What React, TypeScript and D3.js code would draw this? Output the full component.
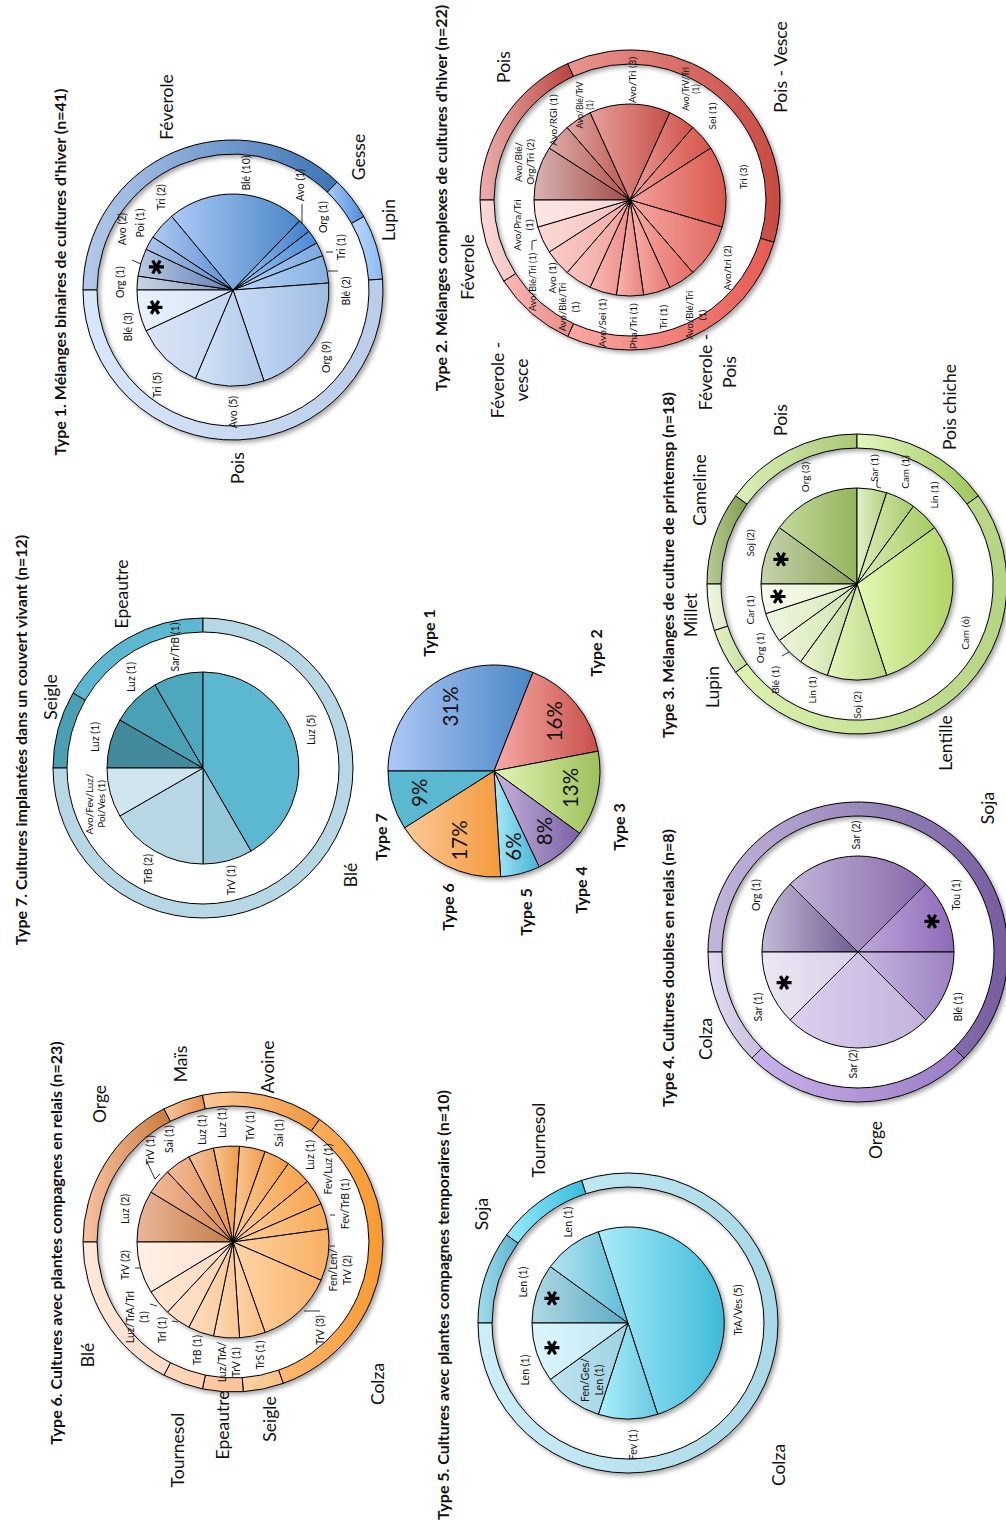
import React from 'react';
import * as d3 from 'd3';

const FONT = 'Lato, "Open Sans", "DejaVu Sans", sans-serif';
const W = 1006;
const H = 1530;
const R_IN = 96;
const R_RING0 = 136;
const R_RING1 = 150;

// ---------------- DATA ----------------
// Type 1
const t1Groups = ['Féverole', 'Gesse', 'Lupin', 'Pois'];
const t1Labels = ['Org (1)', 'Avo (2)', 'Poi (1)', 'Tri (2)', 'Blé (10)', 'Avo (1)', 'Org (1)', 'Tri (1)', 'Blé (2)', 'Org (9)', 'Avo (5)', 'Tri (5)', 'Blé (3)'];
const t1Values = [1, 2, 1, 2, 10, 1, 1, 1, 2, 9, 5, 5, 3];
const t1GroupOf = [0, 0, 0, 0, 0, 1, 1, 2, 2, 3, 3, 3, 3];
const t1Stars = [1, 12];

// Type 2
const t2Groups = ['Pois', 'Pois - Vesce', 'Féverole -\nPois', 'Féverole -\nvesce', 'Féverole'];
const t2Labels = ['Avo/Blé/\nOrg/Tri (2)', 'Avo/RGI (1)', 'Avo/Blé/TrV\n(1)', 'Avo/Tri (3)', 'Avo/TrV/Tri\n(1)', 'Sei (1)', 'Tri (3)', 'Avo/tri (2)', 'Avo/Blé/Tri\n(1)', 'Tri (1)', 'Pha/Tri (1)', 'Avo/Sei (1)', 'Avo/Blé/Tri\n(1)', 'Avo (1)', 'Avo/Blé/Tri (1)', 'Avo/Pra/Tri\n(1)'];
const t2Values = [2, 1, 1, 3, 1, 1, 3, 2, 1, 1, 1, 1, 1, 1, 1, 1];
const t2GroupOf = [0, 0, 0, 1, 1, 1, 1, 2, 2, 2, 2, 2, 3, 3, 4, 4];

// Type 3
const t3Groups = ['Cameline', 'Pois', 'Pois chiche', 'Lentille', 'Lupin', 'Millet'];
const t3Labels = ['Soj (2)', 'Org (3)', 'Sar (1)', 'Cam (1)', 'Lin (1)', 'Cam (6)', 'Soj (2)', 'Lin (1)', 'Blé (1)', 'Org (1)', 'Car (1)'];
const t3Values = [2, 3, 1, 1, 1, 6, 2, 1, 1, 1, 1];
const t3GroupOf = [0, 1, 2, 2, 2, 3, 3, 3, 3, 4, 5];
const t3Stars = [0, 10];

// Type 4
const t4Groups = ['Soja', 'Orge', 'Colza'];
const t4Labels = ['Org (1)', 'Sar (2)', 'Tou (1)', 'Blé (1)', 'Sar (2)', 'Sar (1)'];
const t4Values = [1, 2, 1, 1, 2, 1];
const t4GroupOf = [0, 0, 0, 0, 1, 2];
const t4Stars = [2, 5];

// Type 5
const t5Groups = ['Soja', 'Tournesol', 'Colza'];
const t5Labels = ['Len (1)', 'Len (1)', 'TrA/Ves (5)', 'Fev (1)', 'Fen/Ges/\nLen (1)', 'Len (1)'];
const t5Values = [1, 1, 5, 1, 1, 1];
const t5GroupOf = [0, 1, 2, 2, 2, 2];
const t5Stars = [0, 5];

// Type 6
const t6Groups = ['Orge', 'Maïs', 'Avoine', 'Colza', 'Seigle', 'Epeautre', 'Tournesol', 'Blé'];
const t6Labels = ['Luz (2)', 'TrV (1)', 'Sai (1)', 'Luz (1)', 'Luz (1)', 'TrV (1)', 'Sai (1)', 'Luz (1)', 'Fev/Luz (1)', 'Fev/TrB (1)', 'Fen/Len/\nTrV (2)', 'TrV (3)', 'TrS (1)', 'Luz/TrA/\nTrV (1)', 'TrB (1)', 'TrI (1)', 'Luz/TrA/TrI\n(1)', 'TrV (2)'];
const t6Values = [2, 1, 1, 1, 1, 1, 1, 1, 1, 1, 2, 3, 1, 1, 1, 1, 1, 2];
const t6GroupOf = [0, 0, 0, 1, 2, 2, 2, 3, 3, 3, 3, 3, 4, 5, 6, 7, 7, 7];

// Type 7
const t7Groups = ['Seigle', 'Epeautre', 'Blé'];
const t7Labels = ['Luz (1)', 'Luz (1)', 'Sar/TrB (1)', 'Luz (5)', 'TrV (1)', 'TrB (2)', 'Avo/Fev/Luz/\nPoi/Ves (1)'];
const t7Values = [1, 1, 1, 5, 1, 2, 1];
const t7GroupOf = [0, 1, 1, 2, 2, 2, 2];

// Summary
const sumTypes = ['Type 1', 'Type 2', 'Type 3', 'Type 4', 'Type 5', 'Type 6', 'Type 7'];
const sumValues = [31, 16, 13, 8, 6, 17, 9];

// ---------------- STYLE / LAYOUT ----------------
type C2 = [string, string];
type P = [number, number];
type Seg = [number, number, number, number];

type Spec = {
  id: string; cx: number; cy: number;
  groups: string[]; labels: string[]; values: number[]; groupOf: number[]; stars: number[];
  sliceColors: C2[]; ringColors: C2[];
  labelPos: P[]; groupPos: P[]; labelSize: number; small?: Record<number, number>;
  leaders?: Seg[];
  title: string; titlePos: P; flat?: boolean; shadow?: boolean;
};

const specs: Spec[] = [
  {
    id: 't1', cx: 1240, cy: 233,
    groups: t1Groups, labels: t1Labels, values: t1Values, groupOf: t1GroupOf, stars: t1Stars,
    sliceColors: [['#c9d3e3', '#8397b8'], ['#b8c8e2', '#5f7fb3'], ['#aec6ec', '#5a86c4'], ['#adc9f2', '#5b8fd0'], ['#abc9f5', '#4a87c7'],
      ['#9cc2f2', '#3f7fc8'], ['#9fc6f4', '#4a8ad6'], ['#b5d2f6', '#7ba9e0'], ['#bad5f7', '#87b1e3'],
      ['#c9dcf7', '#9fbce3'], ['#d3e2f6', '#b0c7e8'], ['#dbe6f6', '#c2d4ee'], ['#e9f1fc', '#d6e3f6']],
    ringColors: [['#b5c9ea', '#3e75b4'], ['#a8ccf8', '#4d8cd8'], ['#bcd9fc', '#8db9f0'], ['#d8e7fb', '#b9cde9']],
    labelPos: [[8, -113], [61, -111], [67, -93], [93, -72], [117, 13], [105, 67], [73, 90], [43, 108], [-1, 113], [-67, 93], [-122, 0], [-95, -76], [-37, -105]],
    groupPos: [[183, -67], [133, 125], [70, 155], [-178, 4]],
    leaders: [[86, 69], [66, 69], [30, -101], [26, -92], [38, 93], [38, 100], [19, 95], [19, 105]].reduce((acc: Seg[], p, i, arr) => (i % 2 ? acc : [...acc, [p[0], p[1], arr[i + 1][0], arr[i + 1][1]] as Seg]), []),
    labelSize: 10.5,
    title: "Type 1. Mélanges binaires de cultures d'hiver (n=41)", titlePos: [1258, 59], shadow: true,
  },
  {
    id: 't2', cx: 1330, cy: 630,
    groups: t2Groups, labels: t2Labels, values: t2Values, groupOf: t2GroupOf, stars: [],
    sliceColors: [['#d9b3b3', '#a04a46'], ['#dda9a8', '#b0524c'], ['#e2a8a6', '#b9554e'],
      ['#e8a09c', '#c45048'], ['#ec9d98', '#cc5248'], ['#ef9c96', '#d4554b'], ['#f4a29b', '#d9574c'],
      ['#f6a8a2', '#e06a60'], ['#f8aaa4', '#e47068'], ['#f9b0aa', '#e57a72'], ['#fab5b0', '#e88480'], ['#fbbab5', '#ea8c88'],
      ['#fac4c0', '#eda09c'], ['#fbcac6', '#efaaa6'], ['#fcd8d6', '#f3c0bd'], ['#fde6e5', '#f8d6d4']],
    ringColors: [['#ecb0ae', '#b8423c'], ['#e99490', '#c84b42'], ['#fca8a4', '#e65a50'], ['#f9b8b5', '#e88a86'], ['#fbd9d7', '#f3c6c3']],
    labelPos: [[38, -106], [80, -77], [95, -45], [120, 2], [111, 61], [84, 82], [23, 113], [-68, 97], [-115, 66], [-117, 33], [-126, 3], [-123, -28], [-107, -61], [-78, -78], [-82, -98], [-25, -107]],
    groupPos: [[133, -127], [133, 150], [-172, 87], [-180, -121], [-67, -163]],
    leaders: [[-50, -98, -41, -98], [-41, -98, -40, -93]],
    labelSize: 10, small: { 2: 8.5, 4: 8.5, 14: 9, 12: 9.5, 8: 9.5 },
    title: "Type 2. Mélanges complexes de cultures d'hiver  (n=22)", titlePos: [1332, 440], shadow: true,
  },
  {
    id: 't3', cx: 946, cy: 857,
    groups: t3Groups, labels: t3Labels, values: t3Values, groupOf: t3GroupOf, stars: t3Stars,
    sliceColors: [['#c6d4ab', '#8ba45a'], ['#c4d99f', '#93b55a'], ['#e2f0c8', '#b2cf7e'], ['#dcefbc', '#a9cb6c'], ['#d9eeb5', '#a5ca62'],
      ['#e3f9b4', '#b0d466'], ['#e4f5bd', '#bcd986'], ['#e9f5cf', '#c6dd9d'], ['#ecf6d8', '#cfe2ae'], ['#eef7df', '#d6e6ba'], ['#f6fbec', '#e4efcf']],
    ringColors: [['#b9cc97', '#7f9c4e'], ['#dcf0b8', '#a9c876'], ['#e4f7bf', '#9dc75a'], ['#dcf2ad', '#b4d483'], ['#e2f0c4', '#c8e0a0'], ['#eef6e0', '#dfeccb']],
    labelPos: [[41, -107], [107, -52], [116, 17], [112, 48], [89, 77], [-49, 108], [-121, 0], [-106, -45], [-96, -82], [-64, -97], [-26, -107]],
    groupPos: [[94, -158], [164, -77], [177, 92], [-159, 88], [-103, -145], [-31, -167]],
    leaders: [[104, 20, 97, 20], [97, 20, 96, 24], [-72, -75, -68, -68]],
    labelSize: 10,
    title: 'Type 3. Mélanges de culture de printemsp (n=18)', titlePos: [965, 667], shadow: true,
  },
  {
    id: 't4', cx: 578, cy: 858,
    groups: t4Groups, labels: t4Labels, values: t4Values, groupOf: t4GroupOf, stars: t4Stars,
    sliceColors: [['#c4bad6', '#6f5a93'], ['#c2b3da', '#8668a8'], ['#bea8dc', '#8e6ab8'], ['#c9b8e4', '#9c82c0'], ['#dccfee', '#c3b3dc'], ['#ece6f4', '#d8d0e6']],
    ringColors: [['#c3b5da', '#765c9e'], ['#c9b2ea', '#9a7cc4'], ['#e2dbf0', '#c9bedf']],
    labelPos: [[57, -102], [117, -2], [57, 98], [-55, 100], [-112, -5], [-55, -100]],
    groupPos: [[144, 129], [-188, 17], [-87, -153]],
    labelSize: 10.5,
    title: 'Type 4. Cultures doubles en relais (n=8)', titlePos: [562, 667],
  },
  {
    id: 't5', cx: 207, cy: 628,
    groups: t5Groups, labels: t5Labels, values: t5Values, groupOf: t5GroupOf, stars: t5Stars,
    sliceColors: [['#b0d8e4', '#5aaac2'], ['#b4e4f2', '#5cbdd6'], ['#a8ecfa', '#3fbad8'], ['#acf0fc', '#68c8e0'], ['#bfe4ef', '#9cd2e2'], ['#dcf5fc', '#c0e8f4']],
    ringColors: [['#a4dcec', '#58b2cc'], ['#96ecfc', '#38bcdc'], ['#cdeef8', '#a8d8e6']],
    labelPos: [[41, -105], [101, -60], [13, 110], [-122, 5], [-57, -36], [-47, -103]],
    groupPos: [[109, -147], [183, -90], [-142, 150]],
    labelSize: 10.5,
    title: 'Type 5. Cultures avec plantes compagnes temporaires (n=10)', titlePos: [225, 442], shadow: true,
  },
  {
    id: 't6', cx: 288, cy: 233,
    groups: t6Groups, labels: t6Labels, values: t6Values, groupOf: t6GroupOf, stars: [],
    sliceColors: [['#eab79a', '#c27c45'], ['#f2b898', '#d48850'], ['#f4bc98', '#da8c50'], ['#f7c39c', '#e39550'],
      ['#f9c797', '#ee9a45'], ['#fac99a', '#f09d45'], ['#fbca9a', '#f3a046'],
      ['#fccc9a', '#f6a248'], ['#fcce9c', '#f7a64e'], ['#fcd0a0', '#f8aa56'], ['#fdd2a4', '#f9b062'], ['#fdd4a8', '#f9b46a'],
      ['#fdd6ae', '#fabd80'], ['#fdd9b5', '#fbc590'], ['#fddcbc', '#fbcc9c'], ['#fee1c8', '#fcd4b0'], ['#fee6d2', '#fcdac0'], ['#fff0e6', '#fde2d0']],
    ringColors: [['#f9c2a2', '#c97a3e'], ['#f9c4a0', '#e4914c'], ['#fbc998', '#f0953a'], ['#fcb872', '#f89a30'], ['#fdd3a6', '#f9c080'], ['#fdc9a2', '#fbc29a'], ['#fdd8bc', '#fccfb0'], ['#fee8d8', '#fddcc8']],
    labelPos: [[33, -108], [92, -83], [103, -64], [112, -31], [119, -11], [116, 17], [109, 46], [87, 77], [73, 95], [38, 112], [-28, 107], [-88, 87], [-113, 27], [-120, -4], [-108, -36], [-88, -71], [-75, -96], [-23, -108]],
    groupPos: [[138, -134], [178, -53], [175, 34], [-142, 144], [-177, 36], [-183, -11], [-208, -56], [-113, -146]],
    leaders: [[80, -86, 63, -78], [63, -78, 68, -73], [-26, -98, -26, -93], [-62, -83, -64, -76], [-79, -61, -80, -55], [-69, 71, -69, 87], [-4, 97, -4, 102], [27, 97, 27, 102]],
    labelSize: 10.5,
    title: 'Type 6. Cultures avec plantes compagnes en relais (n=23)', titlePos: [287, 55], shadow: true,
  },
  {
    id: 't7', cx: 762, cy: 203,
    groups: t7Groups, labels: t7Labels, values: t7Values, groupOf: t7GroupOf, stars: [],
    sliceColors: [['#428b9c', '#428b9c'], ['#4aa0b4', '#4aa0b4'], ['#4ea8bd', '#4ea8bd'], ['#5cb8d1', '#5cb8d1'], ['#96c9d9', '#96c9d9'], ['#b6d7e3', '#b6d7e3'], ['#d0e5ed', '#d0e5ed']],
    ringColors: [['#4a9fb3', '#4a9fb3'], ['#5cb8d0', '#5cb8d0'], ['#b6d7e3', '#b6d7e3']],
    labelPos: [[31, -108], [91, -72], [121, -28], [38, 108], [-112, 28], [-101, -55], [-36, -108]],
    groupPos: [[71, -153], [174, -82], [-107, 147]],
    labelSize: 10.5, small: { 6: 10 },
    title: 'Type 7. Cultures implantées dans un couvert vivant (n=12)', titlePos: [790, 20], flat: true,
  },
];

const summary = {
  cx: 759, cy: 494, r: 106,
  colors: [['#adc8f5', '#4a86c6'], ['#f6aaa6', '#c9504a'], ['#e0f5b4', '#9dc05a'], ['#c4b4dc', '#7c62a6'], ['#a8e8f8', '#42b4d4'], ['#fcc898', '#f59a3c'], ['#5ab8d0', '#5ab8d0']] as C2[],
  labelPos: [[138, -66], [118, 101], [-56, 124], [-119, 86], [-141, 31], [-136, -47], [-66, -114]] as P[],
};

const GROUP_FS = 17.5;
const TITLE_FS = 16;

function Grad({ id, c }: { id: string; c: C2 }) {
  return (
    <linearGradient id={id} x1="0" y1="0" x2="0" y2="1">
      <stop offset="0" stopColor={c[0]} />
      <stop offset="1" stopColor={c[1]} />
    </linearGradient>
  );
}

function MultiText({ x, y, text, fs, lh, weight }: { x: number; y: number; text: string; fs: number; lh: number; weight?: string }) {
  const lines = text.split('\n');
  return (
    <>
      {lines.map((ln, k) => (
        <text key={k} x={x} y={y + (k - (lines.length - 1) / 2) * lh} textAnchor="middle" dominantBaseline="central"
          fontSize={fs} fontFamily={FONT} fontWeight={weight || 'normal'} fill="#111">{ln}</text>
      ))}
    </>
  );
}

function Star({ x, y }: { x: number; y: number }) {
  const a = 7.5;
  const path = d3.path();
  [90, 30, 150].forEach((deg) => {
    const t = (deg * Math.PI) / 180;
    path.moveTo(x - a * Math.cos(t), y - a * Math.sin(t));
    path.lineTo(x + a * Math.cos(t), y + a * Math.sin(t));
  });
  return <path d={path.toString()} stroke="#000" strokeWidth={3.2} strokeLinecap="butt" />;
}

function Doughnut({ s }: { s: Spec }) {
  const pie = d3.pie<number>().sort(null).value((d) => d);
  const inner = pie(s.values);
  const sums = s.groups.map((_, gi) => d3.sum(s.values.filter((_, j) => s.groupOf[j] === gi)));
  const outer = pie(sums);
  const arcIn = d3.arc<d3.PieArcDatum<number>>().innerRadius(0).outerRadius(R_IN);
  const arcRing = d3.arc<d3.PieArcDatum<number>>().innerRadius(R_RING0).outerRadius(R_RING1);
  const arcStar = d3.arc<d3.PieArcDatum<number>>().innerRadius(62).outerRadius(98);
  return (
    <g>
      <defs>
        {s.sliceColors.map((c, i) => <Grad key={'s' + i} id={`${s.id}s${i}`} c={c} />)}
        {s.ringColors.map((c, i) => <Grad key={'r' + i} id={`${s.id}r${i}`} c={c} />)}
      </defs>
      <text x={s.titlePos[0]} y={s.titlePos[1]} textAnchor="middle" dominantBaseline="central" fontSize={TITLE_FS}
        fontWeight="bold" fontFamily={FONT} fill="#111">{s.title}</text>
      <g transform={`translate(${s.cx},${s.cy})`}>
        <g filter={s.flat ? undefined : 'url(#shadow)'}>
          {outer.map((a, i) => (
            <path key={i} d={arcRing(a) || ''} fill={`url(#${s.id}r${i})`} stroke="#000" strokeWidth={1} />
          ))}
        </g>
        <g filter={s.shadow ? 'url(#shadow)' : undefined}>
          {inner.map((a, i) => (
            <path key={i} d={arcIn(a) || ''} fill={`url(#${s.id}s${i})`} stroke="#000" strokeWidth={1} strokeLinejoin="round" />
          ))}
        </g>
        {s.stars.map((i) => {
          const [x, y] = arcStar.centroid(inner[i]);
          return <Star key={i} x={x} y={y} />;
        })}
        {(s.leaders || []).map((l, i) => (
          <line key={'l' + i} x1={l[0]} y1={l[1]} x2={l[2]} y2={l[3]} stroke="#000" strokeWidth={0.8} />
        ))}
        {s.labels.map((lb, i) => {
          const fs = (s.small && s.small[i]) || s.labelSize;
          const [x, y] = s.labelPos[i];
          return <MultiText key={i} x={x} y={y} text={lb} fs={fs} lh={fs * 1.28} />;
        })}
        {s.groups.map((g, i) => {
          const [x, y] = s.groupPos[i];
          return <MultiText key={i} x={x} y={y} text={g} fs={GROUP_FS} lh={24} />;
        })}
      </g>
    </g>
  );
}

function SummaryPie() {
  const pie = d3.pie<number>().sort(null).value((d) => d);
  const arcs = pie(sumValues);
  const arc = d3.arc<d3.PieArcDatum<number>>().innerRadius(0).outerRadius(summary.r);
  const arcLab = d3.arc<d3.PieArcDatum<number>>().innerRadius(50).outerRadius(106);
  return (
    <g transform={`translate(${summary.cx},${summary.cy})`}>
      <defs>
        {summary.colors.map((c, i) => <Grad key={i} id={`sum${i}`} c={c} />)}
      </defs>
      <g filter="url(#shadow)">
        {arcs.map((a, i) => (
          <path key={i} d={arc(a) || ''} fill={`url(#sum${i})`} stroke="#000" strokeWidth={1} />
        ))}
      </g>
      {arcs.map((a, i) => {
        const [x, y] = arcLab.centroid(a);
        return (
          <text key={i} x={x} y={y} textAnchor="middle" dominantBaseline="central" fontSize={20.5} fontFamily={FONT} fill="#111">
            {sumValues[i]}%
          </text>
        );
      })}
      {sumTypes.map((t, i) => (
        <text key={t} x={summary.labelPos[i][0]} y={summary.labelPos[i][1]} textAnchor="middle" dominantBaseline="central"
          fontSize={16} fontWeight="bold" fontFamily={FONT} fill="#111">{t}</text>
      ))}
    </g>
  );
}

export default function App() {
  return (
    <svg width={W} height={H} viewBox={`0 0 ${W} ${H}`} style={{ position: 'absolute', left: 0, top: 0, background: '#fff' }}>
      <defs>
        <filter id="shadow" x="-20%" y="-20%" width="140%" height="140%">
          <feDropShadow dx={-2.5} dy={2.5} stdDeviation={2} floodColor="#000" floodOpacity={0.35} />
        </filter>
      </defs>
      <rect x={0} y={0} width={W} height={H} fill="#fff" />
      <g transform={`translate(0,${H}) rotate(-90)`}>
        {specs.map((s) => <Doughnut key={s.id} s={s} />)}
        <SummaryPie />
      </g>
    </svg>
  );
}
